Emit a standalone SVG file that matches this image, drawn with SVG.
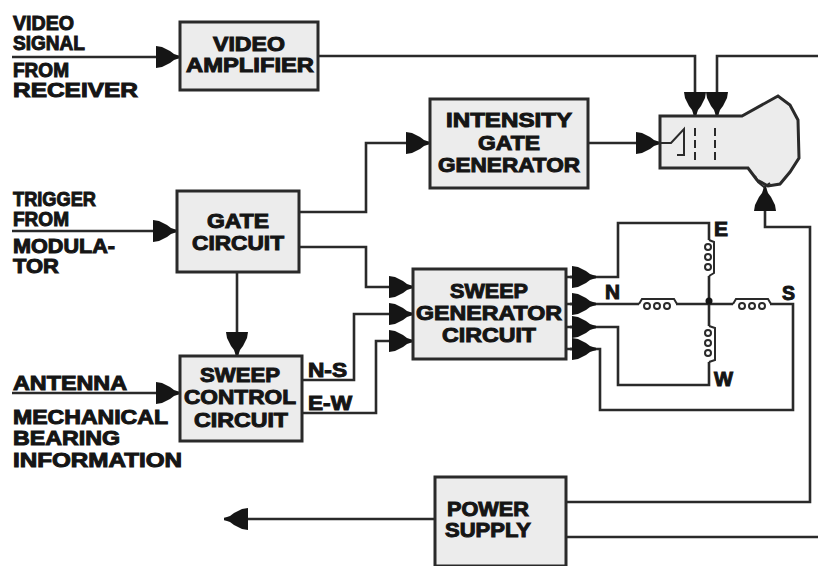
<svg xmlns="http://www.w3.org/2000/svg" width="818" height="566" viewBox="0 0 818 566">
<style>
.b{fill:#ececec;stroke:#2a2a2a;stroke-width:3}
.w{fill:none;stroke:#2a2a2a;stroke-width:2.6;stroke-linejoin:miter}
.c{fill:none;stroke:#2a2a2a;stroke-width:2}
text{font-family:"Liberation Sans",Arial,sans-serif;font-weight:700;font-size:20px;fill:#151515;stroke:#151515;stroke-width:1}
.m{text-anchor:middle}
</style>
<defs>
<marker id="a" markerUnits="userSpaceOnUse" viewBox="0 0 24 22" refX="24" refY="11" markerWidth="24" markerHeight="22" orient="auto">
<path d="M0 0L6 1L14 5L18 8L24 10V12L18 14L14 17L6 21L0 22Z" fill="#151515"/>
</marker>
</defs>
<rect width="818" height="566" fill="#fff"/>
<g id="connectors">
<path class="w" marker-end="url(#a)" d="M12 57H180"/>
<path class="w" marker-end="url(#a)" d="M12 231H177"/>
<path class="w" marker-end="url(#a)" d="M12 393H180"/>
<path class="w" marker-end="url(#a)" d="M318 56H695V116"/>
<path class="w" marker-end="url(#a)" d="M818 56H717V116"/>
<path class="w" marker-end="url(#a)" d="M589 143H660"/>
<path class="w" marker-end="url(#a)" d="M299 212H366V143H430"/>
<path class="w" marker-end="url(#a)" d="M299 247H366V287H413"/>
<path class="w" marker-end="url(#a)" d="M237 272V356"/>
<path class="w" marker-end="url(#a)" d="M302 380H354V314H413"/>
<path class="w" marker-end="url(#a)" d="M302 413H376V341H413"/>
<path class="w" marker-end="url(#a)" d="M566 502H810V227H765V187"/>
<path class="w" marker-end="url(#a)" d="M435 519H224"/>
<path class="w" d="M566 537H818"/>
<path class="w" d="M566 277H618V223H709V240"/>
<path class="w" d="M566 304H639M676 304H733M770 304H793V410H600V349H566"/>
<path class="w" d="M709 276V326M709 362V385H618V327H566"/>
<path class="w" marker-end="url(#a)" d="M570 277H596"/>
<path class="w" marker-end="url(#a)" d="M570 304H596"/>
<path class="w" marker-end="url(#a)" d="M570 327H596"/>
<path class="w" marker-end="url(#a)" d="M570 349H596"/>
<circle cx="709" cy="301" r="3.5" fill="#151515"/>
</g>
<g id="coil-e"><path class="c" d="M709 240L714 242V273L709 276"/><circle class="c" cx="708" cy="247" r="3"/><circle class="c" cx="708" cy="257" r="3"/><circle class="c" cx="708" cy="267" r="3"/></g>
<g id="coil-w"><path class="c" d="M709 326L715 328V360L709 362"/><circle class="c" cx="708" cy="333" r="3"/><circle class="c" cx="708" cy="343" r="3"/><circle class="c" cx="708" cy="353" r="3"/></g>
<g id="coil-n"><path class="c" d="M639 304L642 299H674L677 304"/><circle class="c" cx="647" cy="306" r="3"/><circle class="c" cx="657" cy="306" r="3"/><circle class="c" cx="667" cy="306" r="3"/></g>
<g id="coil-s"><path class="c" d="M733 304L736 299H768L771 304"/><circle class="c" cx="742" cy="306" r="3"/><circle class="c" cx="752" cy="306" r="3"/><circle class="c" cx="762" cy="306" r="3"/></g>
<g id="crt">
<path class="b" stroke-width="2.4" d="M660 116H742L778 96L790 105L798 120L799 158L790 172L780 184L768 186L757 180L748 168H660Z"/>
<path class="c" d="M755 176L758 182L764 187L770 183"/>
<path class="c" d="M660 143H671L684 129V155H677"/>
<path class="c" stroke-dasharray="8 4" d="M695 128V160M715 128V160"/>
</g>
<g id="video-amplifier"><rect class="b" x="180" y="22" width="138" height="68"/><text class="m" x="249" y="51" textLength="72" lengthAdjust="spacingAndGlyphs">VIDEO</text><text class="m" x="250" y="72" textLength="128" lengthAdjust="spacingAndGlyphs">AMPLIFIER</text></g>
<g id="intensity-gate"><rect class="b" x="430" y="99" width="158" height="89"/><text class="m" x="509" y="127" textLength="126" lengthAdjust="spacingAndGlyphs">INTENSITY</text><text class="m" x="509" y="150" textLength="62" lengthAdjust="spacingAndGlyphs">GATE</text><text class="m" x="509" y="172" textLength="142" lengthAdjust="spacingAndGlyphs">GENERATOR</text></g>
<g id="gate-circuit"><rect class="b" x="177" y="191" width="122" height="81"/><text class="m" x="238" y="228" textLength="62" lengthAdjust="spacingAndGlyphs">GATE</text><text class="m" x="238" y="250" textLength="92" lengthAdjust="spacingAndGlyphs">CIRCUIT</text></g>
<g id="sweep-generator"><rect class="b" x="413" y="269" width="153" height="90"/><text class="m" x="489" y="298" textLength="78" lengthAdjust="spacingAndGlyphs">SWEEP</text><text class="m" x="489" y="320" textLength="146" lengthAdjust="spacingAndGlyphs">GENERATOR</text><text class="m" x="489" y="342" textLength="94" lengthAdjust="spacingAndGlyphs">CIRCUIT</text></g>
<g id="sweep-control"><rect class="b" x="180" y="356" width="122" height="85"/><text class="m" x="240" y="382" textLength="80" lengthAdjust="spacingAndGlyphs">SWEEP</text><text class="m" x="240" y="404" textLength="112" lengthAdjust="spacingAndGlyphs">CONTROL</text><text class="m" x="241" y="427" textLength="94" lengthAdjust="spacingAndGlyphs">CIRCUIT</text></g>
<g id="power-supply"><rect class="b" x="435" y="477" width="131" height="89"/><text class="m" x="488" y="516" textLength="82" lengthAdjust="spacingAndGlyphs">POWER</text><text class="m" x="488" y="537" textLength="86" lengthAdjust="spacingAndGlyphs">SUPPLY</text></g>
<g id="labels">
<text x="13" y="30" textLength="61" lengthAdjust="spacingAndGlyphs">VIDEO</text>
<text x="13" y="50" textLength="72" lengthAdjust="spacingAndGlyphs">SIGNAL</text>
<text x="13" y="77" textLength="56" lengthAdjust="spacingAndGlyphs">FROM</text>
<text x="13" y="97" textLength="125" lengthAdjust="spacingAndGlyphs">RECEIVER</text>
<text x="13" y="206" textLength="83" lengthAdjust="spacingAndGlyphs">TRIGGER</text>
<text x="13" y="226" textLength="56" lengthAdjust="spacingAndGlyphs">FROM</text>
<text x="13" y="253" textLength="102" lengthAdjust="spacingAndGlyphs">MODULA-</text>
<text x="13" y="273" textLength="46" lengthAdjust="spacingAndGlyphs">TOR</text>
<text x="13" y="390" textLength="114" lengthAdjust="spacingAndGlyphs">ANTENNA</text>
<text x="13" y="424" textLength="155" lengthAdjust="spacingAndGlyphs">MECHANICAL</text>
<text x="13" y="445" textLength="107" lengthAdjust="spacingAndGlyphs">BEARING</text>
<text x="13" y="467" textLength="169" lengthAdjust="spacingAndGlyphs">INFORMATION</text>
<text x="308" y="377" textLength="39" lengthAdjust="spacingAndGlyphs">N-S</text>
<text x="308" y="410" textLength="44" lengthAdjust="spacingAndGlyphs">E-W</text>
<text x="714" y="236" textLength="14" lengthAdjust="spacingAndGlyphs">E</text>
<text x="605" y="299" textLength="15" lengthAdjust="spacingAndGlyphs">N</text>
<text x="782" y="300" textLength="13" lengthAdjust="spacingAndGlyphs">S</text>
<text x="714" y="386" textLength="19" lengthAdjust="spacingAndGlyphs">W</text>
</g>
</svg>
